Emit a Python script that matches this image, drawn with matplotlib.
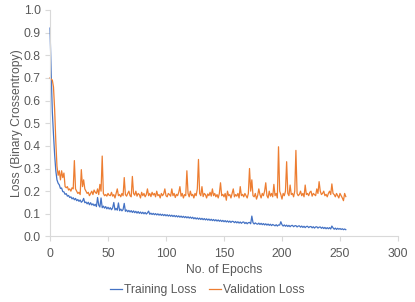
import numpy as np
import matplotlib
matplotlib.use('Agg')
import matplotlib.pyplot as plt

plt.rcParams['font.family'] = ['Liberation Sans', 'DejaVu Sans']

train_loss = [
    0.92, 0.72, 0.55, 0.45, 0.36, 0.29, 0.25, 0.235, 0.228, 0.212,
    0.214, 0.198, 0.197, 0.186, 0.189, 0.178, 0.181, 0.172, 0.175, 0.166,
    0.171, 0.162, 0.168, 0.158, 0.163, 0.155, 0.161, 0.151, 0.156, 0.168,
    0.149, 0.152, 0.144, 0.151, 0.14, 0.149, 0.139, 0.144, 0.136, 0.142,
    0.132, 0.172, 0.138, 0.13, 0.17, 0.127, 0.134, 0.125, 0.132, 0.122,
    0.129, 0.121, 0.127, 0.118, 0.126, 0.15, 0.117, 0.124, 0.116, 0.148,
    0.114, 0.121, 0.113, 0.119, 0.146, 0.111, 0.117, 0.109, 0.115, 0.108,
    0.114, 0.106, 0.113, 0.105, 0.111, 0.103, 0.11, 0.102, 0.108, 0.101,
    0.107, 0.1, 0.106, 0.099, 0.104, 0.112, 0.098, 0.103, 0.097, 0.102,
    0.096, 0.101, 0.095, 0.1, 0.094, 0.099, 0.093, 0.098, 0.092, 0.097,
    0.091, 0.096, 0.09, 0.095, 0.089, 0.094, 0.088, 0.093, 0.087, 0.092,
    0.086, 0.091, 0.085, 0.09, 0.084, 0.089, 0.083, 0.088, 0.082, 0.087,
    0.081, 0.086, 0.08, 0.085, 0.078, 0.083, 0.077, 0.082, 0.076, 0.081,
    0.075, 0.08, 0.074, 0.079, 0.073, 0.078, 0.072, 0.077, 0.071, 0.076,
    0.07, 0.075, 0.069, 0.074, 0.068, 0.073, 0.067, 0.072, 0.066, 0.071,
    0.065, 0.07, 0.064, 0.069, 0.063, 0.068, 0.062, 0.067, 0.066, 0.061,
    0.066, 0.06, 0.065, 0.059, 0.064, 0.058, 0.063, 0.064, 0.057, 0.062,
    0.056, 0.061, 0.062, 0.056, 0.09, 0.061, 0.055, 0.06, 0.056, 0.054,
    0.059, 0.053, 0.058, 0.052, 0.057, 0.051, 0.056, 0.05, 0.055, 0.049,
    0.054, 0.048, 0.053, 0.05, 0.047, 0.052, 0.046, 0.051, 0.05, 0.065,
    0.052, 0.046, 0.051, 0.045, 0.05, 0.044, 0.049, 0.043, 0.048, 0.049,
    0.043, 0.047, 0.048, 0.042, 0.046, 0.047, 0.041, 0.046, 0.04, 0.045,
    0.039, 0.044, 0.045, 0.039, 0.043, 0.044, 0.038, 0.043, 0.037, 0.042,
    0.043, 0.037, 0.041, 0.042, 0.036, 0.041, 0.035, 0.04, 0.034, 0.039,
    0.034, 0.039, 0.033, 0.046, 0.038, 0.032, 0.037, 0.031, 0.036, 0.032,
    0.035, 0.031, 0.034, 0.03, 0.033, 0.03,
]

val_loss = [
    0.70, 0.695, 0.69, 0.66, 0.56, 0.42, 0.31, 0.27, 0.29, 0.25,
    0.29, 0.26, 0.28, 0.22, 0.215, 0.22, 0.205, 0.21, 0.2, 0.215,
    0.21, 0.335, 0.21, 0.2, 0.19, 0.195, 0.185, 0.295, 0.22, 0.25,
    0.21, 0.2, 0.19, 0.195, 0.18, 0.19, 0.2, 0.185, 0.205, 0.195,
    0.19, 0.21, 0.185, 0.23, 0.2, 0.355, 0.19, 0.18, 0.185, 0.178,
    0.19, 0.182, 0.18, 0.195, 0.178, 0.185, 0.17, 0.19, 0.21, 0.18,
    0.185, 0.175, 0.19, 0.18, 0.26, 0.185, 0.178, 0.19, 0.2, 0.18,
    0.175, 0.265, 0.19, 0.182, 0.2, 0.178, 0.19, 0.185, 0.17, 0.195,
    0.18, 0.19, 0.175, 0.185, 0.21, 0.18, 0.19, 0.176, 0.195, 0.183,
    0.19, 0.175, 0.2, 0.18, 0.185, 0.17, 0.19, 0.18, 0.188, 0.21,
    0.18, 0.175, 0.19, 0.185, 0.178, 0.21, 0.18, 0.19, 0.172, 0.186,
    0.18, 0.195, 0.22, 0.178, 0.19, 0.17, 0.185, 0.18, 0.29, 0.19,
    0.175, 0.2, 0.18, 0.186, 0.17, 0.19, 0.18, 0.21, 0.34, 0.19,
    0.18, 0.22, 0.176, 0.19, 0.185, 0.17, 0.188, 0.18, 0.195, 0.178,
    0.21, 0.18, 0.19, 0.175, 0.185, 0.17, 0.19, 0.237, 0.18, 0.186,
    0.175, 0.19, 0.16, 0.2, 0.18, 0.185, 0.17, 0.19, 0.21, 0.175,
    0.185, 0.178, 0.19, 0.17, 0.22, 0.18, 0.186, 0.175, 0.19, 0.18,
    0.17, 0.19, 0.3, 0.2, 0.25, 0.18, 0.175, 0.19, 0.165, 0.18,
    0.21, 0.185, 0.17, 0.19, 0.18, 0.2, 0.237, 0.18, 0.17, 0.2,
    0.178, 0.19, 0.175, 0.23, 0.18, 0.19, 0.17, 0.396, 0.2, 0.185,
    0.165, 0.19, 0.18, 0.2, 0.33, 0.19, 0.18, 0.227, 0.185, 0.19,
    0.175, 0.2, 0.38, 0.19, 0.18, 0.186, 0.2, 0.18, 0.19, 0.175,
    0.227, 0.185, 0.19, 0.18, 0.195, 0.2, 0.178, 0.19, 0.185, 0.18,
    0.21, 0.19, 0.242, 0.2, 0.185, 0.19, 0.2, 0.18, 0.186, 0.175,
    0.19, 0.2, 0.185, 0.232, 0.19, 0.185, 0.175, 0.19, 0.18, 0.17,
    0.19, 0.18, 0.17, 0.158, 0.19, 0.176,
]

x_ticks = [0, 50, 100, 150, 200, 250, 300]
y_ticks = [0.0, 0.1, 0.2, 0.3, 0.4, 0.5, 0.6, 0.7, 0.8, 0.9, 1.0]

grey = '#595959'
axis_grey = '#D9D9D9'
fs = 8.7

fig = plt.figure(figsize=(4.15, 3.02), dpi=100)
ax = fig.add_axes([0.1205, 0.217, 0.8385, 0.75])

ax.plot(np.arange(len(train_loss)), train_loss, color='#4472C4', lw=0.9, label='Training Loss', clip_on=False)
ax.plot(np.arange(len(val_loss)), val_loss, color='#ED7D31', lw=0.9, label='Validation Loss', clip_on=False)

ax.set_xlim(0, 300)
ax.set_ylim(0, 1.0)
ax.set_xticks(x_ticks)
ax.set_yticks(y_ticks)
ax.set_yticklabels(['%.1f' % v for v in y_ticks])

for side in ['top', 'right']:
    ax.spines[side].set_visible(False)
for side in ['left', 'bottom']:
    ax.spines[side].set_color(axis_grey)
    ax.spines[side].set_linewidth(0.8)

ax.tick_params(axis='both', colors=axis_grey, labelcolor=grey, labelsize=fs, length=3.5, width=0.8)
ax.tick_params(axis='x', pad=5)
ax.tick_params(axis='y', pad=3)

ax.set_xlabel('No. of Epochs', color=grey, fontsize=fs, labelpad=3)
ax.set_ylabel('Loss (Binary Crossentropy)', color=grey, fontsize=fs, labelpad=0.5)

fig.legend(loc='center', bbox_to_anchor=(0.5, 0.04), ncol=2, frameon=False,
           fontsize=fs, labelcolor=grey, handlelength=1.0, handletextpad=0.2, columnspacing=1.0)

plt.savefig('out.png', dpi=100)
